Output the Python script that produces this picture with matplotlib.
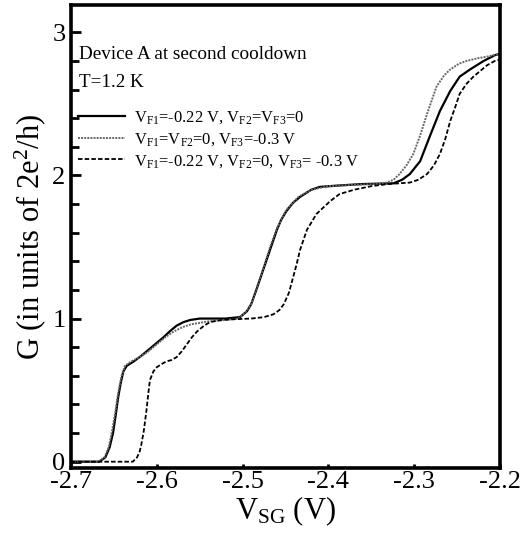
import numpy as np
import matplotlib.pyplot as plt
from matplotlib.ticker import MultipleLocator

plt.rcParams['font.family'] = ['Liberation Serif', 'DejaVu Serif']
plt.rcParams['mathtext.fontset'] = 'custom'
plt.rcParams['mathtext.rm'] = 'Liberation Serif'
plt.rcParams['mathtext.it'] = 'Liberation Serif:italic'

# V_F1=-0.22 V, V_F2=V_F3=0 (solid)
vsg_a = [-2.70, -2.667, -2.660, -2.655, -2.651, -2.648, -2.645, -2.642, -2.639, -2.635,
         -2.627, -2.618, -2.610, -2.600, -2.592, -2.585, -2.577, -2.569, -2.561, -2.550,
         -2.520, -2.503, -2.495, -2.490, -2.484, -2.476, -2.468, -2.460, -2.455, -2.449,
         -2.441, -2.433, -2.420, -2.410, -2.387, -2.360, -2.324, -2.314, -2.305, -2.293,
         -2.282, -2.270, -2.258, -2.247, -2.235, -2.219, -2.206, -2.200]
g_a = [0.0, 0.0, 0.03, 0.10, 0.20, 0.32, 0.45, 0.55, 0.63, 0.67,
       0.70, 0.74, 0.78, 0.83, 0.87, 0.91, 0.95, 0.975, 0.99, 1.0,
       1.0, 1.01, 1.05, 1.10, 1.20, 1.34, 1.48, 1.62, 1.69, 1.75,
       1.81, 1.85, 1.90, 1.92, 1.93, 1.94, 1.945, 1.97, 2.01, 2.10,
       2.27, 2.45, 2.59, 2.69, 2.74, 2.80, 2.84, 2.85]

# V_F1=V_F2=0, V_F3=-0.3 V (dotted)
vsg_b = [-2.70, -2.668, -2.661, -2.656, -2.652, -2.648, -2.645, -2.641, -2.637, -2.630,
         -2.620, -2.610, -2.600, -2.590, -2.580, -2.570, -2.560, -2.540, -2.520, -2.505,
         -2.497, -2.490, -2.484, -2.476, -2.468, -2.460, -2.449, -2.435, -2.420, -2.400,
         -2.370, -2.345, -2.332, -2.324, -2.317, -2.309, -2.301, -2.293, -2.285, -2.274,
         -2.265, -2.258, -2.248, -2.239, -2.225, -2.215, -2.200]
g_b = [0.0, 0.0, 0.03, 0.10, 0.22, 0.36, 0.48, 0.60, 0.67, 0.70,
       0.73, 0.77, 0.82, 0.87, 0.91, 0.94, 0.96, 0.98, 0.99, 1.0,
       1.04, 1.10, 1.20, 1.35, 1.50, 1.63, 1.76, 1.85, 1.90, 1.925,
       1.935, 1.94, 1.95, 1.97, 2.01, 2.07, 2.15, 2.28, 2.43, 2.62,
       2.70, 2.74, 2.78, 2.80, 2.82, 2.83, 2.85]

# V_F1=-0.22 V, V_F2=0, V_F3=-0.3 V (dashed)
vsg_c = [-2.70, -2.628, -2.623, -2.620, -2.618, -2.615, -2.612, -2.610, -2.608, -2.604,
         -2.600, -2.595, -2.589, -2.583, -2.577, -2.571, -2.565, -2.559, -2.553, -2.545,
         -2.538, -2.525, -2.511, -2.490, -2.475, -2.464, -2.457, -2.452, -2.446, -2.441,
         -2.437, -2.433, -2.425, -2.414, -2.398, -2.387, -2.370, -2.350, -2.330, -2.305,
         -2.295, -2.285, -2.277, -2.270, -2.264, -2.258, -2.252, -2.247, -2.239, -2.231,
         -2.215, -2.206, -2.200]
g_c = [0.0, 0.0, 0.03, 0.07, 0.12, 0.22, 0.36, 0.47, 0.57, 0.63,
       0.66, 0.68, 0.70, 0.71, 0.73, 0.77, 0.82, 0.87, 0.91, 0.95,
       0.975, 0.99, 0.995, 1.0, 1.01, 1.03, 1.06, 1.10, 1.18, 1.29,
       1.38, 1.48, 1.62, 1.73, 1.82, 1.87, 1.90, 1.925, 1.94, 1.95,
       1.97, 2.01, 2.07, 2.15, 2.25, 2.38, 2.48, 2.57, 2.64, 2.69,
       2.77, 2.80, 2.81]

labels = [r'V$_{\rm F1}$=-0.22 V, V$_{\rm F2}$=V$_{\rm F3}$=0',
          r'V$_{\rm F1}$=V$_{\rm F2}$=0, V$_{\rm F3}$=-0.3 V',
          r'V$_{\rm F1}$=-0.22 V, V$_{\rm F2}$=0, V$_{\rm F3}$= -0.3 V']
xtick_labels = ['-2.7', '-2.6', '-2.5', '-2.4', '-2.3', '-2.2']

fig = plt.figure(figsize=(5.2, 5.37), dpi=100, facecolor='w')
ax = fig.add_axes([0.1365, 0.1285, 0.825, 0.862])

ax.plot(vsg_a, g_a, color='k', lw=1.6, ls='-', label=labels[0])
ax.plot(vsg_b, g_b, color='#666666', lw=1.4, ls=(0, (1, 0.6)), label=labels[1])
ax.plot(vsg_c, g_c, color='k', lw=1.3, ls=(0, (2.5, 1.2)), label=labels[2])

ax.set_xlim(-2.7, -2.2)
ax.set_ylim(-0.044, 3.19)
ax.set_xticks([-2.7, -2.6, -2.5, -2.4, -2.3, -2.2])
ax.set_xticklabels(xtick_labels)
ax.yaxis.set_major_locator(MultipleLocator(1))
ax.yaxis.set_minor_locator(MultipleLocator(0.2))
ax.tick_params(axis='x', direction='in', length=3, width=2, labelsize=19, pad=2)
ax.tick_params(axis='y', which='major', direction='in', length=7, width=2, labelsize=19, pad=4)
ax.tick_params(axis='y', which='minor', direction='in', length=6, width=2)
for s in ax.spines.values():
    s.set_linewidth(2.6)

ax.set_xlabel(r'V$_{\rm SG}$ (V)', fontsize=22, labelpad=1)
ax.set_ylabel(r'G (in units of 2e$^{2}$/h)', fontsize=22, labelpad=3)

ax.text(0.018, 0.894, 'Device A at second cooldown', transform=ax.transAxes,
        fontsize=13.8, va='center')
ax.text(0.018, 0.832, 'T=1.2 K', transform=ax.transAxes, fontsize=13.8, va='center')
ax.legend(loc='upper left', bbox_to_anchor=(-0.01, 0.8), frameon=False, fontsize=11.9,
          handlelength=2.8, handletextpad=0.55, labelspacing=0.3, borderpad=0.2)

plt.savefig('out.png', dpi=100)
